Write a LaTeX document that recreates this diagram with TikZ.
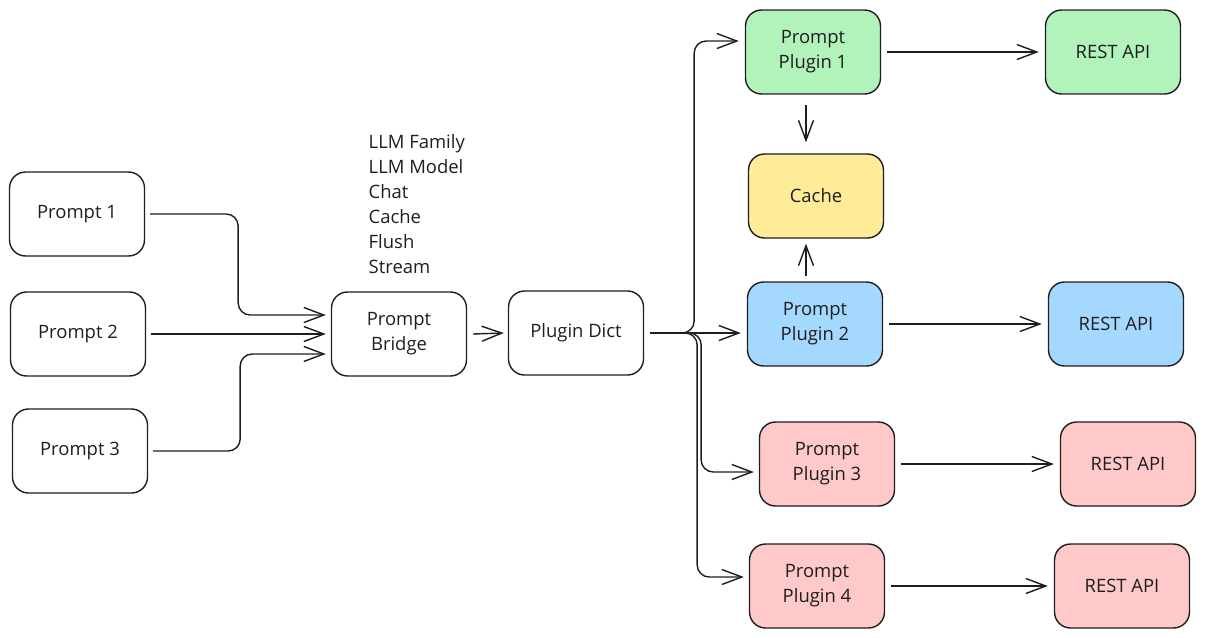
\documentclass[tikz,border=0pt]{standalone}
\usepackage{fontspec}
\setmainfont{Open Sans}
\usetikzlibrary{arrows.meta}
\definecolor{ink}{HTML}{1E1E1E}
\definecolor{mint}{HTML}{B2F2BB}
\definecolor{sand}{HTML}{FFEC99}
\definecolor{sky}{HTML}{A5D8FF}
\definecolor{rose}{HTML}{FFC9C9}

\begin{document}
\begin{tikzpicture}[x=0.02cm,y=-0.02cm,line width=0.8pt,>={Straight Barb[length=4mm,width=3mm]},
  box/.style={draw=ink,rounded corners=0.32cm,minimum width=2.7cm,minimum height=1.68cm,
    align=center,text=ink,font=\fontsize{10.5}{14.2}\selectfont},
  link/.style={->,draw=ink,rounded corners=0.24cm}]
\useasboundingbox (0,0) rectangle (1205,637);
% ---- inputs: three prompts into the bridge ----
\foreach \n/\x/\y in {1/77/214, 2/78/334, 3/80/451}{
  \node[box] (p\n) at (\x,\y) {Prompt \n};
}
\node[box] (bridge) at (399,334) {Prompt\\Bridge};
\node[anchor=north west,align=left,text=ink,font=\fontsize{10.5}{14.2}\selectfont,inner sep=0pt]
  (feat) at (368,134) {LLM Family\\LLM Model\\Chat\\Cache\\Flush\\Stream};
\node[box] (dict) at (576,333) {Plugin Dict};
\draw[link] ([xshift=0.1cm]p1.east) -- ++(88,0) |- ([xshift=-0.1cm,yshift=0.38cm]bridge.west);
\draw[link] ([xshift=0.1cm]p2.east) -- ([xshift=-0.1cm]bridge.west);
\draw[link] ([xshift=0.1cm]p3.east) -- ++(87,0) |- ([xshift=-0.1cm,yshift=-0.4cm]bridge.west);
\draw[link] ([xshift=0.12cm]bridge.east) -- ([xshift=-0.08cm]dict.west);
% ---- plugins, cache and their REST APIs ----
\foreach \n/\x/\y/\c/\rx in {1/813/52/mint/1113, 2/815/324/sky/1116, 3/827/464/rose/1128, 4/817/586/rose/1122}{
  \node[box,fill=\c] (pp\n) at (\x,\y) {Prompt\\Plugin \n};
  \node[box,fill=\c] (rest\n) at (\rx,\y) {REST API};
  \draw[link] ([xshift=0.12cm]pp\n.east) -- ([xshift=-0.12cm]rest\n.west);
}
\node[box,fill=sand] (cache) at (816,196) {Cache};
\draw[link] ([xshift=0.12cm]dict.east) -- ++(44,0) |- ([xshift=-0.12cm,yshift=0.22cm]pp1.west);
\draw[link] ([xshift=0.12cm]dict.east) -- ([xshift=-0.12cm]dict.east -| pp2.west);
\draw[link] ([xshift=0.12cm]dict.east) -- ++(51,0) |- ([xshift=-0.1cm,yshift=-0.16cm]pp3.west);
\draw[link] ([xshift=0.12cm]dict.east) -- ++(47,0) |- ([xshift=-0.1cm,yshift=0.18cm]pp4.west);
\draw[link] ([xshift=-0.14cm,yshift=-0.2cm]pp1.south) -- ([xshift=-0.14cm,yshift=0.22cm]pp1.south |- cache.north);
\draw[link] ([xshift=-0.18cm,yshift=0.1cm]pp2.north) -- ([xshift=-0.18cm,yshift=-0.1cm]pp2.north |- cache.south);
\end{tikzpicture}
\end{document}
